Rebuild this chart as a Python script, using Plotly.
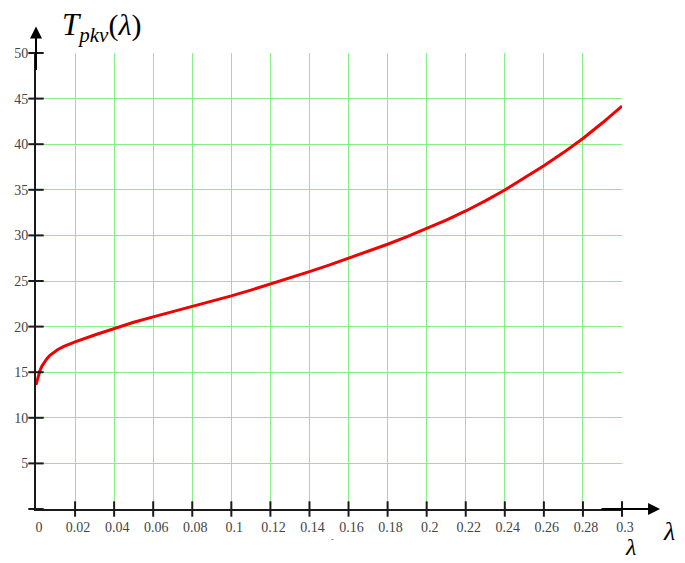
import plotly.graph_objects as go

# T_pkv as a function of lambda
lam = [0, 0.001, 0.002, 0.003, 0.004, 0.0055, 0.007, 0.009, 0.011, 0.014, 0.017, 0.02,
       0.03, 0.04, 0.05, 0.06, 0.07, 0.08, 0.09, 0.1, 0.11, 0.12, 0.13, 0.14,
       0.15, 0.16, 0.17, 0.18, 0.19, 0.2, 0.21, 0.22, 0.23, 0.24, 0.25, 0.26,
       0.27, 0.28, 0.29, 0.3]
t_pkv = [13.6, 14.5, 15.15, 15.65, 16.0, 16.45, 16.83, 17.18, 17.46, 17.8, 18.08, 18.33,
         19.08, 19.8, 20.47, 21.07, 21.63, 22.2, 22.78, 23.37, 24.0, 24.65, 25.33, 26.03,
         26.74, 27.48, 28.24, 29.03, 29.86, 30.73, 31.68, 32.68, 33.78, 34.98, 36.27, 37.63,
         39.08, 40.63, 42.35, 44.18]

x_ticks = [0, 0.02, 0.04, 0.06, 0.08, 0.1, 0.12, 0.14, 0.16, 0.18, 0.2,
           0.22, 0.24, 0.26, 0.28, 0.3]
x_tick_text = ["0", "0.02", "0.04", "0.06", "0.08", "0.1", "0.12", "0.14", "0.16",
               "0.18", "0.2", "0.22", "0.24", "0.26", "0.28", "0.3"]
y_ticks = [0, 5, 10, 15, 20, 25, 30, 35, 40, 45, 50]
y_tick_text = ["", "5", "10", "15", "20", "25", "30", "35", "40", "45", "50"]

GRID = "#86f086"
AXIS = "#1a1a1a"
LABEL = "#444444"
SERIF = "Liberation Serif, Times New Roman, serif"

fig = go.Figure()

fig.add_trace(go.Scatter(
    x=lam, y=t_pkv, mode="lines",
    line=dict(color="#f00000", width=3),
    hoverinfo="skip", showlegend=False,
))

# tick marks crossing the axis lines
fig.add_trace(go.Scatter(
    x=[0] * len(y_ticks), y=y_ticks, mode="markers",
    marker=dict(symbol="line-ew", size=11, line=dict(color=AXIS, width=2)),
    cliponaxis=False, hoverinfo="skip", showlegend=False,
))
fig.add_trace(go.Scatter(
    x=x_ticks[1:], y=[0] * (len(x_ticks) - 1), mode="markers",
    marker=dict(symbol="line-ns", size=11, line=dict(color=AXIS, width=2)),
    cliponaxis=False, hoverinfo="skip", showlegend=False,
))

fig.update_xaxes(
    range=[0, 0.3], tickvals=x_ticks, ticktext=x_tick_text,
    showgrid=True, gridcolor=GRID, gridwidth=1, zeroline=False,
    showline=True, linecolor=AXIS, linewidth=2,
    ticks="outside", ticklen=4, tickcolor="rgba(0,0,0,0)", ticklabelshift=3,
    tickfont=dict(family=SERIF, size=14, color=LABEL),
)
fig.update_yaxes(
    range=[0, 50], tickvals=y_ticks, ticktext=y_tick_text,
    showgrid=True, gridcolor=GRID, gridwidth=1, zeroline=False,
    showline=True, linecolor=AXIS, linewidth=2,
    ticks="outside", ticklen=3, tickcolor="rgba(0,0,0,0)",
    tickfont=dict(family=SERIF, size=14, color=LABEL),
)

# axis arrows (tail offsets in pixels)
fig.add_annotation(
    xref="paper", yref="paper", x=1.065, y=0, ax=-60, ay=0,
    showarrow=True, arrowhead=2,
    arrowsize=1.2, arrowwidth=2, arrowcolor="#000000", text="",
)
fig.add_annotation(
    xref="paper", yref="paper", x=0, y=1.058, ax=0, ay=45,
    showarrow=True, arrowhead=2,
    arrowsize=1.2, arrowwidth=2, arrowcolor="#000000", text="",
)

# axis names
fig.add_annotation(
    xref="paper", yref="paper", x=0.041, y=1.058, xanchor="left", yanchor="middle",
    text=("<i>T</i><sub><span style='font-size:21px'><i>pkv</i></span></sub>"
          "<span style='font-size:30px'>(<i>λ</i>)</span>"),
    showarrow=False,
    font=dict(family=SERIF, size=31, color="#000000"),
)
fig.add_annotation(
    xref="paper", yref="paper", x=1.08, y=-0.05, xanchor="center", yanchor="middle",
    text="<i>λ</i>", showarrow=False,
    font=dict(family=SERIF, size=26, color="#000000"),
)
fig.add_annotation(
    xref="paper", yref="paper", x=1.015, y=-0.084, xanchor="center", yanchor="middle",
    text="<i>λ</i>", showarrow=False,
    font=dict(family=SERIF, size=24, color="#000000"),
)
fig.add_annotation(
    xref="paper", yref="paper", x=0.506, y=-0.066, xanchor="center", yanchor="middle",
    text="-", showarrow=False,
    font=dict(family=SERIF, size=8, color="#555555"),
)

fig.update_layout(
    width=685, height=563,
    margin=dict(l=36, r=63, t=53, b=54),
    paper_bgcolor="white", plot_bgcolor="white",
)

fig.write_html("out.html")
